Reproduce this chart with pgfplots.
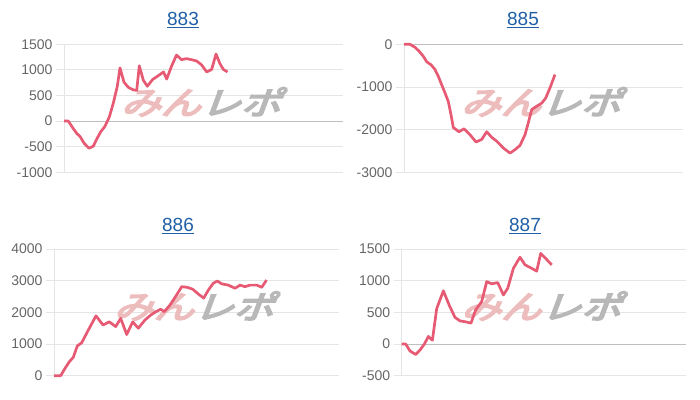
\documentclass[border=0pt]{standalone}
\usepackage{pgfplots}
\pgfplotsset{compat=1.18}
\usepackage{fontspec}
\setmainfont{Liberation Sans}
\newfontfamily\cjk[FakeSlant=0.3]{Noto Sans CJK JP}

\definecolor{linec}{HTML}{E65A73}
\definecolor{titlec}{HTML}{1F5FA6}
\definecolor{wmpink}{HTML}{EDBDBE}
\definecolor{wmgray}{HTML}{B8B8B8}

% one small chart.js-like panel
\pgfplotsset{
    panel/.style={
        scale only axis,
        set layers,
        clip=false,
        xmin=0,
        xtick=\empty,
        axis x line*=bottom,
        axis y line*=left,
        axis line style={draw=black!10,line width=0.8bp},
        ymajorgrids,
        grid style={draw=black!10,line width=0.8bp},
        tick align=outside,
        major tick length=8bp,
        ytick style={draw=black!10,line width=0.8bp},
        yticklabel style={font=\fontsize{14bp}{14bp}\selectfont,text=black!60},
        extra y ticks={0},
        extra y tick labels={},
        extra y tick style={grid style={draw=black!25,line width=0.8bp},
                            tick style={draw=black!25,line width=0.8bp}},
    },
    curve/.style={linec,line width=2.7bp,mark=none,line join=round},
}
\tikzset{ttl/.style={anchor=base,text=titlec,font=\fontsize{19bp}{19bp}\selectfont}}

% watermark, heavier through fill+stroke text rendering
\newcommand{\wmtext}{\scalebox{1.25}[1]{\fontsize{32bp}{32bp}\cjk
        \special{pdf:literal direct 2 Tr 1.6 w}%
        \textcolor{wmpink}{みん}\textcolor{wmgray}{レポ}%
        \special{pdf:literal direct 0 Tr}}}
\newcommand{\watermark}{%
    \begin{pgfonlayer}{pre main}
    \node at (rel axis cs:0.49,0.55) {\wmtext};
    \end{pgfonlayer}}

\begin{document}
\begin{tikzpicture}

% ---- 883 ----
\node[ttl] at (183bp,374bp) {\underline{883}};
\begin{axis}[panel,at={(64bp,227.7bp)},anchor=south west,
    width=279bp,height=128bp,xmax=279,
    ymin=-1000,ymax=1500,ytick={-1000,-500,0,500,1000,1500},
    yticklabels={-1000,-500,0,500,1000,1500}]
    \watermark
    \addplot[curve] coordinates {
        (0,0) (4.3,0) (8.7,-130) (12.7,-240) (16,-300) (20,-430) (25,-530)
        (29.3,-490) (33.3,-330) (36.7,-210) (41,-100) (45.3,80) (49.3,350)
        (53.3,680) (56,1040) (60,760) (64.3,660) (69.3,610) (72.7,600)
        (75.3,1080) (79.3,800) (83.3,680) (88.5,810) (96,910) (99.5,960)
        (102.7,820) (107.5,1070) (112.5,1290) (117.5,1200) (122.5,1220)
        (127.5,1200) (132.5,1175) (137.5,1100) (142.7,960) (147.7,1010)
        (152,1310) (156,1120) (159.3,1010) (163.5,960)
    };
\end{axis}

% ---- 885 ----
\node[ttl] at (523bp,374bp) {\underline{885}};
\begin{axis}[panel,at={(404bp,227.7bp)},anchor=south west,
    width=279bp,height=128bp,xmax=279,
    ymin=-3000,ymax=0,ytick={-3000,-2000,-1000,0},
    yticklabels={-3000,-2000,-1000,0}]
    \watermark
    \addplot[curve] coordinates {
        (0,0) (6,0) (11,-70) (15,-160) (19.3,-280) (22.7,-410) (27,-480)
        (31,-590) (34.3,-750) (37.7,-950) (41,-1140) (44.3,-1340) (47,-1650)
        (49.3,-1950) (55,-2050) (60,-1980) (66,-2120) (72,-2290) (77.7,-2230)
        (82.7,-2050) (87.7,-2180) (92.7,-2270) (99.3,-2430) (106,-2550)
        (111,-2470) (116,-2370) (121,-2120) (124.3,-1840) (127.7,-1530)
        (132.7,-1450) (137.7,-1380) (141.7,-1260) (146,-1020) (151,-710)
    };
\end{axis}

% ---- 886 ----
\node[ttl] at (178bp,168bp) {\underline{886}};
\begin{axis}[panel,at={(54bp,24.3bp)},anchor=south west,
    width=285bp,height=126.7bp,xmax=285,
    ymin=0,ymax=4000,ytick={0,1000,2000,3000,4000},
    yticklabels={0,1000,2000,3000,4000}]
    \watermark
    \addplot[curve] coordinates {
        (0,0) (6.7,0) (11,230) (15.3,440) (19.3,580) (23.3,940) (27.7,1040)
        (34.3,1440) (42,1890) (49,1600) (55.3,1700) (61.7,1550) (66.7,1810)
        (72.7,1300) (78.7,1700) (84.3,1500) (91,1760) (97,1920) (102,2020)
        (106.7,2100) (110.3,2020) (116,2230) (122,2520) (127.7,2810)
        (133.3,2790) (138.7,2730) (144.3,2580) (149.7,2450) (154.3,2700)
        (159.3,2920) (163.3,2990) (167.7,2900) (174.3,2860) (181,2760)
        (186,2860) (191,2810) (196,2860) (202.7,2860) (207.7,2790) (212.5,3020)
    };
\end{axis}

% ---- 887 ----
\node[ttl] at (525bp,168bp) {\underline{887}};
\begin{axis}[panel,at={(401.7bp,24.3bp)},anchor=south west,
    width=284.3bp,height=126.7bp,xmax=284.3,
    ymin=-500,ymax=1500,ytick={-500,0,500,1000,1500},
    yticklabels={-500,0,500,1000,1500}]
    \watermark
    \addplot[curve] coordinates {
        (0,0) (4,0) (8.3,-110) (14,-165) (18.3,-95) (22.7,0) (26.7,120)
        (30.7,60) (35,560) (41.7,840) (47.3,620) (53.3,420) (58.3,365)
        (64,350) (69.3,330) (74,540) (80,670) (85,985) (90,950) (96,970)
        (101.7,775) (106,880) (111.7,1195) (118.3,1370) (123.3,1250)
        (130,1195) (135,1150) (139,1430) (144,1350) (150,1250)
    };
\end{axis}

\pgfresetboundingbox
\useasboundingbox (0,0) rectangle (700bp,400bp);
\end{tikzpicture}
\end{document}
